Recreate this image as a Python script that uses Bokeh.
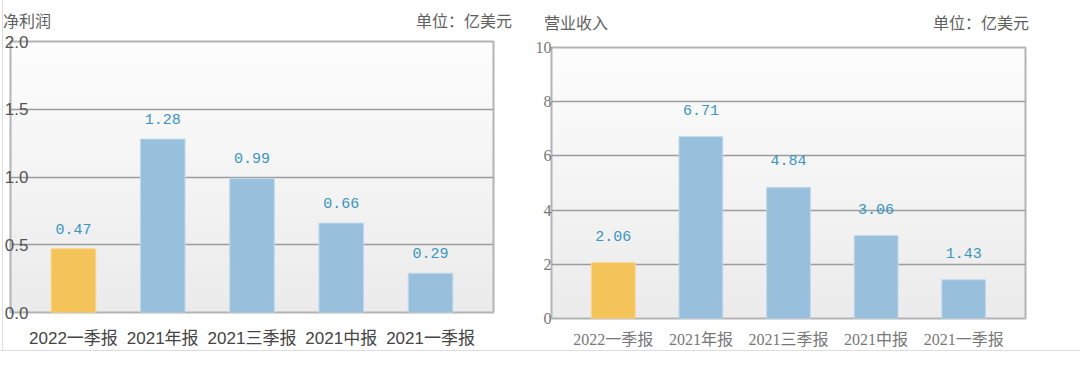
from bokeh.plotting import figure
from bokeh.models import ColumnDataSource, FixedTicker, FactorRange, CustomJSTickFormatter, Div
from bokeh.layouts import row, column
from bokeh.core.properties import value
from bokeh.embed import file_html
from bokeh.resources import INLINE

# ---- data ----
periods = ["2022一季报", "2021年报", "2021三季报", "2021中报", "2021一季报"]
net_profit = [0.47, 1.28, 0.99, 0.66, 0.29]
revenue = [2.06, 6.71, 4.84, 3.06, 1.43]
profit_ticks = [0.0, 0.5, 1.0, 1.5, 2.0]
revenue_ticks = [0, 2, 4, 6, 8, 10]
bar_colors = ["#F4C359", "#98C0DC", "#98C0DC", "#98C0DC", "#98C0DC"]
bar_edges = ["#F8D690", "#C2DAEC", "#C2DAEC", "#C2DAEC", "#C2DAEC"]
left_title, right_title, unit_text = "净利润", "营业收入", "单位：亿美元"

CJK = "'Noto Sans CJK SC'"
HEAD_H = 30
PAGE_H = 350


def header(title, unit, width, left, right, top):
    span = ("position:absolute;top:{t}px;{side}:{v}px;font-family:'Noto Sans CJK SC';"
            "font-size:16px;line-height:16px;color:#606060;white-space:nowrap;")
    html = (f'<div style="position:relative;width:{width}px;height:{HEAD_H}px;">'
            f'<span style="{span.format(t=top, side="left", v=left)}">{title}</span>'
            f'<span style="{span.format(t=top, side="right", v=right)}">{unit}</span></div>')
    return Div(text=html, width=width, height=HEAD_H, margin=0)


def make_chart(values, ticks, ymax, tick_decimals, width,
               mb, latin_font, cat_color, tick_color, label_gap,
               tick_standoff, cat_standoff, cat_size, tick_size):
    src = ColumnDataSource(dict(
        period=periods, value=values,
        label=[f"{v:.2f}" for v in values],
        color=bar_colors, edge=bar_edges,
    ))
    p = figure(x_range=FactorRange(*periods, range_padding=0.205, range_padding_units="absolute"),
               y_range=(0, ymax), width=width, height=PAGE_H - HEAD_H,
               output_backend="svg", toolbar_location=None, margin=0,
               min_border_left=mb[0], min_border_right=mb[1],
               min_border_top=mb[2] - HEAD_H, min_border_bottom=mb[3])
    # transparent, so the soft vertical gradient of the container shows through the frame
    p.background_fill_color = None
    p.border_fill_color = None
    p.outline_line_color = "#b4b4b4"
    p.outline_line_width = 2

    p.vbar(x="period", top="value", width=0.5, source=src,
           fill_color="color", line_color="edge", line_width=1)
    p.text(x="period", y="value", text="label", source=src,
           text_align="center", text_baseline="bottom", y_offset=-label_gap,
           text_font=value("Liberation Mono"), text_font_size="15px", text_color="#3a95c2")

    p.xgrid.visible = False
    p.ygrid.grid_line_color = "#9c9c9c"
    p.ygrid.grid_line_width = 1.5
    p.yaxis.ticker = FixedTicker(ticks=ticks)
    p.yaxis.formatter = CustomJSTickFormatter(code=f"return tick.toFixed({tick_decimals});")

    for ax in (p.xaxis[0], p.yaxis[0]):
        ax.axis_line_color = None
        ax.major_tick_line_color = None
        ax.minor_tick_line_color = None
        ax.major_tick_out = 0
        ax.major_tick_in = 0
    p.xaxis.major_label_text_font = f"'{latin_font}', {CJK}"
    p.xaxis.major_label_text_font_size = cat_size
    p.xaxis.major_label_text_color = cat_color
    p.xaxis.major_label_standoff = cat_standoff
    p.yaxis.major_label_text_font = f"'{latin_font}', {CJK}"
    p.yaxis.major_label_text_font_size = tick_size
    p.yaxis.major_label_text_color = tick_color
    p.yaxis.major_label_standoff = tick_standoff
    return p


def frame_gradient(mb, width):
    fw = width - mb[0] - mb[1]
    fh = PAGE_H - mb[2] - mb[3]
    return {"background": f"linear-gradient(#fdfdfd, #ebebeb) {mb[0]}px {mb[2]}px / {fw}px {fh}px no-repeat"}


mb1 = (10, 37, 41, 38)   # left, right, top, bottom borders of the net-profit chart
mb2 = (21, 55, 47, 31)   # same for the revenue chart
p1 = make_chart(net_profit, profit_ticks, 2.0, 1, 530, mb1,
                "Liberation Sans", "#444444", "#555555", 15, -18, 16, "17px", "17px")
p2 = make_chart(revenue, revenue_ticks, 10, 0, 550, mb2,
                "Liberation Serif", "#777777", "#777777", 22, 0, 12, "16px", "16px")

h1 = header(left_title, unit_text, 530, 3, 18, 12)
h2 = header(right_title, unit_text, 550, 14, 51, 14)

layout = row(column(h1, p1, margin=0, styles=frame_gradient(mb1, 530)),
             column(h2, p2, margin=0, styles=frame_gradient(mb2, 550)),
             margin=0,
             styles={"border-bottom": "1px solid #dddddd",
                     "background": f"linear-gradient(#dddddd, #dddddd) 2px 0px / 1px {PAGE_H}px no-repeat"})

open("out.html", "w").write(file_html(layout, INLINE))
